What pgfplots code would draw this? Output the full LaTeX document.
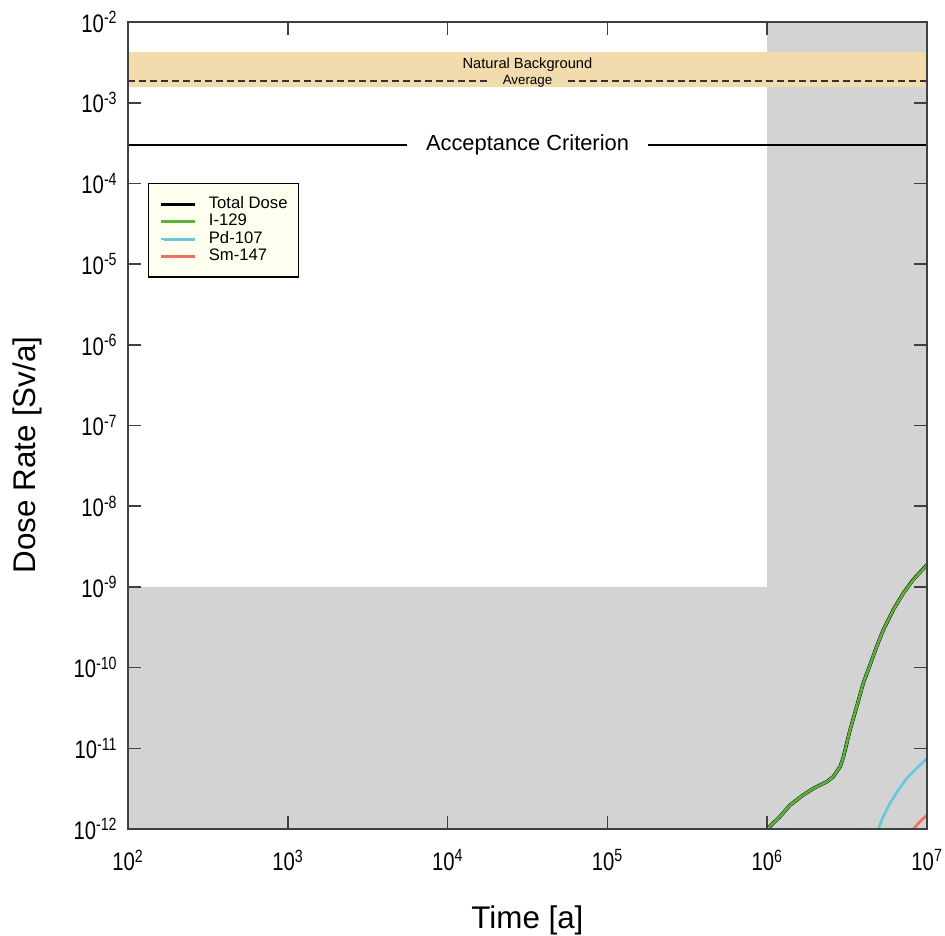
\documentclass[border=0pt]{standalone}
\usepackage{fontspec}
\setmainfont{Liberation Sans}
\newfontfamily\narrowfont{Liberation Sans}[FakeStretch=0.8]
\usepackage{pgfplots}
\pgfplotsset{compat=1.18}

\definecolor{shade}{RGB}{211,211,211}
\definecolor{band}{RGB}{242,219,173}
\definecolor{frame}{RGB}{64,64,64}
\definecolor{iodine}{RGB}{92,178,56}
\definecolor{palladium}{RGB}{104,200,222}
\definecolor{samarium}{RGB}{238,112,98}
\definecolor{legendbg}{RGB}{255,255,240}

\begin{document}
\begin{tikzpicture}
\begin{axis}[
    at={(0pt,0pt)}, anchor=south west,
    scale only axis, width=599.25pt, height=605.25pt,
    xmode=log, ymode=log,
    xmin=1e2, xmax=1e7, ymin=1e-12, ymax=1e-2,
    xtick={1e2,1e3,1e4,1e5,1e6,1e7},
    xticklabels={10\textsuperscript{2},10\textsuperscript{3},10\textsuperscript{4},10\textsuperscript{5},10\textsuperscript{6},10\textsuperscript{7}},
    ytick={1e-12,1e-11,1e-10,1e-9,1e-8,1e-7,1e-6,1e-5,1e-4,1e-3,1e-2},
    yticklabels={10\textsuperscript{-12},10\textsuperscript{-11},10\textsuperscript{-10},10\textsuperscript{-9},10\textsuperscript{-8},10\textsuperscript{-7},10\textsuperscript{-6},10\textsuperscript{-5},10\textsuperscript{-4},10\textsuperscript{-3},10\textsuperscript{-2}},
    tick align=inside, major tick length=9.75pt, minor tick length=0pt,
    axis line style={frame, line width=1.5pt},
    every tick/.style={frame, line width=1.2pt},
    axis on top,
    tick label style={font=\fontsize{19}{22}\narrowfont},
    xticklabel style={yshift=-12pt},
    yticklabel style={xshift=-4.5pt},
    legend style={at={(rel axis cs:0,1)}, anchor=north west,
        xshift=15pt, yshift=-120.75pt,
        fill=legendbg, draw=black, line width=1.1pt,
        font=\fontsize{12.5}{13}\selectfont,
        inner xsep=8pt, inner ysep=9pt, row sep=0pt, column sep=9pt,
        nodes={inner sep=0pt, text height=9.5pt, text depth=3.5pt}},
    legend cell align=left,
    legend image code/.code={
        \path (0pt,0pt) -- (25.5pt,0pt);
        \draw[#1, line width=2.2pt] (2.5pt,0pt) -- (25.5pt,0pt);},
]
% shaded regions
\addplot[fill=shade, draw=none, forget plot] coordinates {
    (1e2,1e-12) (1e2,1e-9) (1e6,1e-9) (1e6,1e-2) (1e7,1e-2) (1e7,1e-12)} -- cycle;
% natural background band
\addplot[fill=band, draw=none, forget plot] coordinates {
    (1e2,1.57e-3) (1e7,1.57e-3) (1e7,4.24e-3) (1e2,4.24e-3)} -- cycle;
\addplot[draw={rgb,255:red,50;green,50;blue,50}, line width=1.1pt,
    dash pattern=on 5.25pt off 3pt, forget plot] coordinates {(1e2,1.86e-3) (1e7,1.86e-3)}
    node[pos=0.5, fill=band, inner xsep=12pt, inner ysep=0pt,
         font=\fontsize{10}{10}\selectfont, text=black] {Average};
\node[font=\fontsize{11}{11}\selectfont] at (axis cs:3.16e4,2.93e-3) {Natural Background};
% acceptance criterion
\addplot[black, line width=1.1pt, forget plot] coordinates {(1e2,3e-4) (1e7,3e-4)}
    node[pos=0.5, fill=white, inner xsep=14pt, inner ysep=2pt,
         font=\fontsize{16.4}{18}\selectfont] {Acceptance Criterion};
% total dose
\addplot[black, line width=2.6pt] coordinates {
    (1e6,1e-12) (1.20e6,1.42e-12) (1.39e6,1.98e-12) (1.68e6,2.64e-12) (1.95e6,3.19e-12)
    (2.36e6,3.85e-12) (2.59e6,4.45e-12) (2.86e6,5.92e-12) (3.00e6,7.87e-12)
    (3.30e6,1.69e-11) (3.63e6,3.28e-11) (3.99e6,6.38e-11) (4.40e6,1.08e-10)
    (4.84e6,1.82e-10) (5.32e6,2.92e-10) (6.15e6,5.20e-10) (7.11e6,8.36e-10)
    (8.20e6,1.23e-9) (1e7,1.88e-9)};
\addlegendentry{Total Dose}
% I-129
\addplot[iodine, line width=2pt] coordinates {
    (1e6,1e-12) (1.20e6,1.42e-12) (1.39e6,1.98e-12) (1.68e6,2.64e-12) (1.95e6,3.19e-12)
    (2.36e6,3.85e-12) (2.59e6,4.45e-12) (2.86e6,5.92e-12) (3.00e6,7.87e-12)
    (3.30e6,1.69e-11) (3.63e6,3.28e-11) (3.99e6,6.38e-11) (4.40e6,1.08e-10)
    (4.84e6,1.82e-10) (5.32e6,2.92e-10) (6.15e6,5.18e-10) (7.11e6,8.32e-10)
    (8.20e6,1.22e-9) (1e7,1.87e-9)};
\addlegendentry{I-129}
% Pd-107
\addplot[palladium, line width=2pt] coordinates {
    (4.95e6,1e-12) (5.32e6,1.42e-12) (5.86e6,2.08e-12) (6.61e6,3.04e-12)
    (7.46e6,4.25e-12) (8.61e6,5.65e-12) (1e7,7.52e-12)};
\addlegendentry{Pd-107}
% Sm-147
\addplot[samarium, line width=2pt] coordinates {
    (8.20e6,1e-12) (9.03e6,1.23e-12) (1e7,1.49e-12)};
\addlegendentry{Sm-147}
\end{axis}
\node[anchor=base, font=\fontsize{23.5}{28}\selectfont] at (299.6pt,-74.25pt) {Time [a]};
\node[anchor=base, rotate=90, font=\fontsize{23.5}{28}\selectfont] at (-69pt,280.5pt) {Dose Rate [Sv/a]};
\pgfresetboundingbox
\path (-96pt,-79.5pt) rectangle (612.75pt,621.75pt);
\end{tikzpicture}
\end{document}
